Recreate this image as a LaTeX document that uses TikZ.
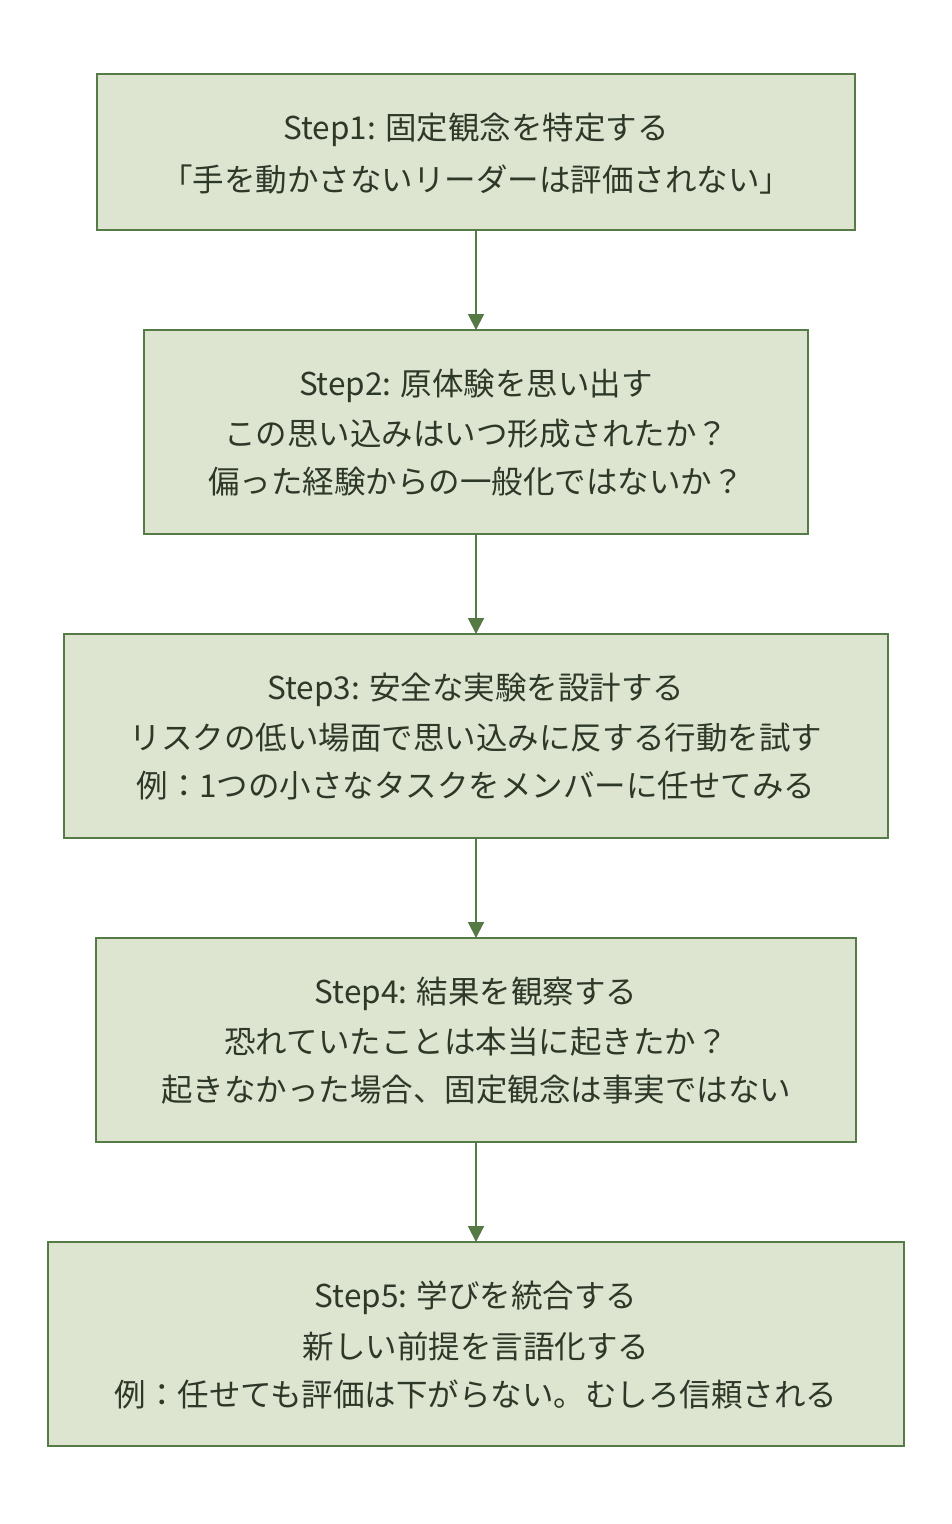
\documentclass[tikz,border=0pt]{standalone}
\usepackage{fontspec}
\setmainfont{Noto Sans CJK JP}
\usetikzlibrary{arrows.meta}
\definecolor{boxfill}{HTML}{DDE5D0}
\definecolor{boxline}{HTML}{557A46}
\definecolor{txt}{HTML}{2E3829}
\begin{document}
\begin{tikzpicture}[x=1pt,y=-1pt,
  stepbox/.style={draw=boxline,fill=boxfill,line width=2pt,rectangle,inner sep=0pt},
  lbl/.style={text=txt,font=\fontsize{31.5}{36}\selectfont,anchor=center,inner sep=0pt},
  conn/.style={draw=boxline,line width=2pt,-{Triangle[width=16pt,length=16pt]}}]
\useasboundingbox (0,0) rectangle (952,1524);
\fill[white] (0,0) rectangle (952,1524);
% boxes
\draw[stepbox] (97,74) rectangle (855,230); \coordinate (b1t) at (476,74); \coordinate (b1b) at (476,230);
\draw[stepbox] (144,330) rectangle (808,534); \coordinate (b2t) at (476,330); \coordinate (b2b) at (476,534);
\draw[stepbox] (64,634) rectangle (888,838); \coordinate (b3t) at (476,634); \coordinate (b3b) at (476,838);
\draw[stepbox] (96,938) rectangle (856,1142); \coordinate (b4t) at (476,938); \coordinate (b4b) at (476,1142);
\draw[stepbox] (48,1242) rectangle (904,1446); \coordinate (b5t) at (476,1242); \coordinate (b5b) at (476,1446);
% texts
\node[lbl] (t11) at (476,130) {Step1: 固定観念を特定する};
\node[lbl] (t12) at (476,180) {「手を動かさないリーダーは評価されない」};
\node[lbl] (t21) at (476,386) {Step2: 原体験を思い出す};
\node[lbl] (t22) at (476,434) {この思い込みはいつ形成されたか？};
\node[lbl] (t23) at (476,482) {偏った経験からの一般化ではないか？};
\node[lbl] (t31) at (476,690) {Step3: 安全な実験を設計する};
\node[lbl] (t32) at (476,738) {リスクの低い場面で思い込みに反する行動を試す};
\node[lbl] (t33) at (476,786) {例：1つの小さなタスクをメンバーに任せてみる};
\node[lbl] (t41) at (476,994) {Step4: 結果を観察する};
\node[lbl] (t42) at (476,1042) {恐れていたことは本当に起きたか？};
\node[lbl] (t43) at (476,1090) {起きなかった場合、固定観念は事実ではない};
\node[lbl] (t51) at (476,1298) {Step5: 学びを統合する};
\node[lbl] (t52) at (476,1346) {新しい前提を言語化する};
\node[lbl] (t53) at (476,1394) {例：任せても評価は下がらない。むしろ信頼される};
% connectors
\draw[conn] (b1b) -- (b2t);
\draw[conn] (b2b) -- (b3t);
\draw[conn] (b3b) -- (b4t);
\draw[conn] (b4b) -- (b5t);
\end{tikzpicture}
\end{document}
